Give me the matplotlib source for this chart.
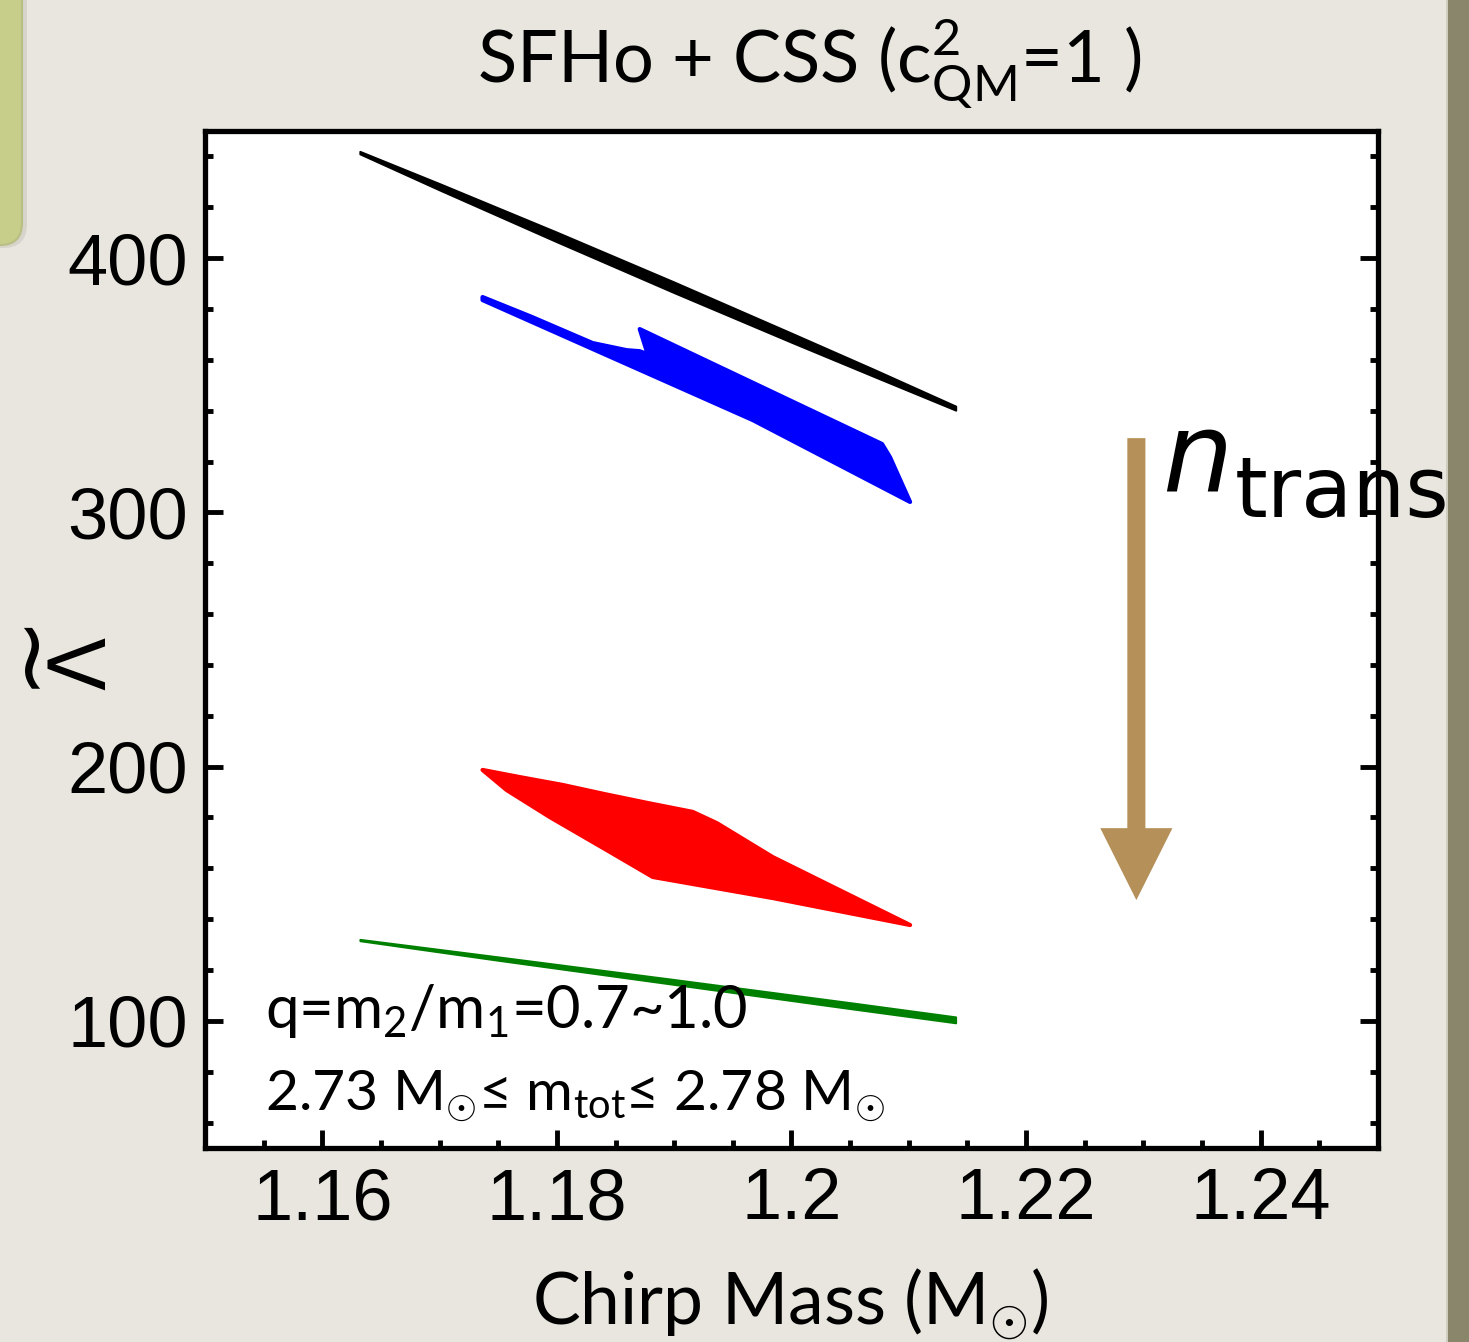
import matplotlib.pyplot as plt
import matplotlib.patches as mpatches
from matplotlib.ticker import MultipleLocator

plt.rcParams['mathtext.fontset'] = 'custom'
plt.rcParams['mathtext.rm'] = 'Lato'
plt.rcParams['mathtext.it'] = 'Lato:italic'
plt.rcParams['mathtext.bf'] = 'Lato:bold'

# --- data (chirp mass, tidal deformability) ---
# black band: lowest transition density
black_x = [1.1632, 1.1700, 1.1800, 1.1900, 1.2000, 1.2070, 1.2140]
black_hi = [442.0, 429.3, 410.2, 390.6, 370.5, 356.3, 341.8]
black_lo = [441.0, 426.8, 406.4, 386.4, 366.9, 353.5, 340.2]

# blue region
blue_x = [1.17366, 1.17780, 1.18305, 1.18595, 1.18706, 1.18774, 1.18706,
          1.20772, 1.20840, 1.21011, 1.19670, 1.17366]
blue_y = [384.7, 377.0, 366.6, 363.8, 363.4, 362.2, 372.1,
          326.9, 321.7, 304.1, 336.3, 383.5]

# red region
red_x = [1.17366, 1.17682, 1.18049, 1.18407, 1.18774, 1.19158, 1.19363,
         1.19841, 1.21011, 1.19841, 1.18817, 1.18424, 1.17938, 1.17571]
red_y = [198.7, 195.9, 192.8, 189.2, 185.7, 182.2, 177.8,
         164.4, 137.7, 148.3, 156.6, 167.2, 180.2, 190.8]

# green band: highest transition density
green_x = [1.1632, 1.1750, 1.1900, 1.2050, 1.2140]
green_hi = [132.1, 125.2, 116.3, 107.2, 101.6]
green_lo = [131.5, 123.8, 114.3, 104.8, 99.2]

xticks = [1.16, 1.18, 1.20, 1.22, 1.24]
xtick_labels = ["1.16", "1.18", "1.2", "1.22", "1.24"]
yticks = [100, 200, 300, 400]

bg = "#e8e6de"
arrow_color = "#b59058"

fig = plt.figure(figsize=(14.69, 13.42), dpi=100)
fig.patch.set_facecolor(bg)

# decorative slide elements (green tab at left, dark strip at right)
shadow = mpatches.FancyBboxPatch((-0.4, 10.94), 0.67, 3.05,
                                 boxstyle="round,pad=0,rounding_size=0.24",
                                 transform=fig.dpi_scale_trans, facecolor="#d6d4cb",
                                 edgecolor="none", zorder=0)
fig.patches.append(shadow)
tab = mpatches.FancyBboxPatch((-0.4, 10.97), 0.62, 3.0,
                              boxstyle="round,pad=0,rounding_size=0.22",
                              transform=fig.dpi_scale_trans, facecolor="#c6ce8a",
                              edgecolor="#b8bf84", lw=1.5, zorder=0)
fig.patches.append(tab)
strip = mpatches.Rectangle((14.475, 0), 0.3, 13.42, transform=fig.dpi_scale_trans,
                           facecolor="#8a866c", edgecolor="none", zorder=0)
fig.patches.append(strip)
edge = mpatches.Rectangle((14.455, 0), 0.02, 13.42, transform=fig.dpi_scale_trans,
                          facecolor="#cfccc0", edgecolor="none", zorder=0)
fig.patches.append(edge)

ax = fig.add_axes([0.13955, 0.14456, 0.79850, 0.75782])
ax.set_facecolor("white")

ax.fill_between(black_x, black_lo, black_hi, color="black", lw=1.4)
ax.fill(blue_x, blue_y, facecolor="#0000ff", edgecolor="#0000ff", lw=3, joinstyle="round")
ax.fill(red_x, red_y, facecolor="#ff0000", edgecolor="#ff0000", lw=3, joinstyle="round")
ax.fill_between(green_x, green_lo, green_hi, color="#008000", lw=1.3)

# n_trans arrow
arr = mpatches.FancyArrow(1.2294, 329.2, 0, -181.7, width=0.00154, head_width=0.00615,
                          head_length=28.3, length_includes_head=True,
                          color=arrow_color, lw=0)
ax.add_patch(arr)
ax.text(1.2316, 308.8, "n", fontsize=80, style="italic", family="DejaVu Sans",
        clip_on=False, zorder=5)
ax.text(1.2378, 298.2, "trans", fontsize=60, family="DejaVu Sans",
        clip_on=False, zorder=5)

ax.text(0.0512, 0.118, r"q=m$_{2}$/m$_{1}$=0.7~1.0", transform=ax.transAxes,
        fontsize=43, family=["Lato", "DejaVu Sans"])
ax.text(0.0512, 0.0374, r"2.73 M$_{\odot}$≤ m$_{\rm tot}$≤ 2.78 M$_{\odot}$",
        transform=ax.transAxes, fontsize=41, family=["Lato", "DejaVu Sans"])

ax.set_xlim(1.15, 1.25)
ax.set_ylim(50, 450)
ax.set_xticks(xticks)
ax.set_xticklabels(xtick_labels)
ax.set_yticks(yticks)
ax.xaxis.set_minor_locator(MultipleLocator(0.005))
ax.yaxis.set_minor_locator(MultipleLocator(20))
ax.tick_params(which="both", direction="in", top=False, right=True,
               labelright=False, width=3.5, color="black")
ax.tick_params(which="major", length=13, labelsize=52)
ax.tick_params(which="minor", length=5.5)
ax.tick_params(axis="y", pad=12)
ax.tick_params(axis="x", pad=14)
for lab in ax.get_xticklabels() + ax.get_yticklabels():
    lab.set_family("Liberation Sans")
for sp in ax.spines.values():
    sp.set_linewidth(3.8)

fig.text(809 / 1469, 1 - 82 / 1342,
         r"SFHo + CSS (c$^{2}_{\rm QM}$=1 )", ha="center", va="baseline",
         fontsize=52, family="Lato")
fig.text(790 / 1469, 17 / 1342, r"Chirp Mass (M$_{\odot}$)", ha="center",
         va="baseline", fontsize=51.5, family="Lato")
# y label: tilde-Lambda, rotated
fig.text(105 / 1469, 1 - 690 / 1342, "\u039b", rotation=90, rotation_mode="anchor",
         ha="left", va="baseline", fontsize=56, family="DejaVu Sans")
fig.text(53 / 1469, 1 - 688 / 1342, "~", rotation=90, rotation_mode="anchor",
         ha="left", va="baseline", fontsize=70, family="DejaVu Sans")

fig.savefig("out.png", dpi=100, facecolor=bg)
